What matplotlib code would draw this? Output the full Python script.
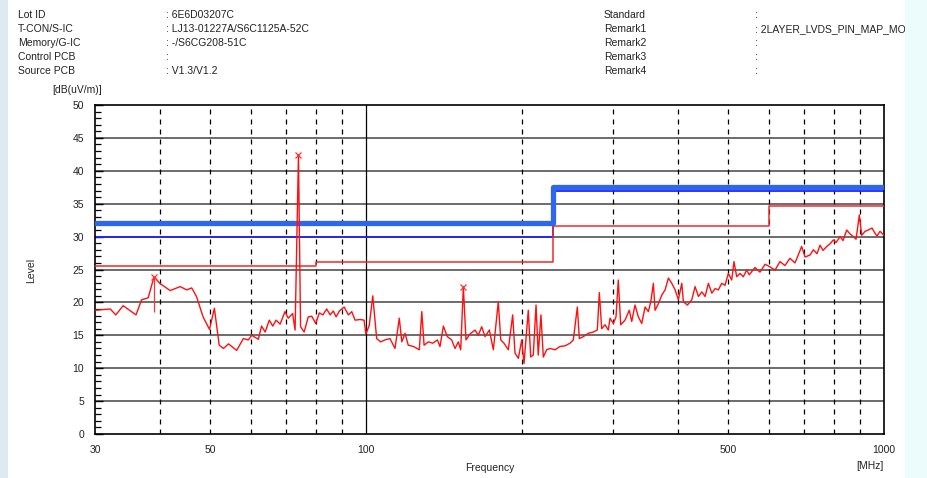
import numpy as np
import matplotlib
matplotlib.use('Agg')
from matplotlib import pyplot as plt
from matplotlib.patches import Rectangle

matplotlib.rcParams['font.family'] = ['Liberation Sans', 'DejaVu Sans']

# measured trace as (MHz, dB(uV/m)) pairs, split by band
trace_low = [(30.0, 18.8), (32.1, 19.0), (32.9, 18.1), (34.0, 19.5), (36.0, 18.1), (36.9, 20.4),
             (38.0, 20.7), (39.0, 23.9), (40.0, 22.9), (41.9, 21.8), (43.8, 22.4), (45.1, 21.9),
             (46.1, 22.2), (47.1, 20.9), (48.5, 17.8), (49.9, 15.9), (51.0, 19.1), (52.1, 13.5),
             (53.1, 13.0), (54.3, 13.7), (56.3, 12.7), (58.0, 14.5), (59.3, 14.3), (60.2, 15.0),
             (62.0, 14.4), (62.9, 16.4), (63.9, 15.5), (65.1, 17.3), (66.1, 16.4), (67.1, 17.3),
             (68.3, 16.7), (69.8, 18.6), (70.8, 17.6), (72.2, 18.3), (73.0, 15.8), (74.1, 42.4),
             (74.8, 16.3), (76.0, 15.5), (77.4, 17.8), (78.6, 17.9), (80.0, 16.8), (81.3, 18.4),
             (82.6, 18.1), (84.0, 19.0), (85.3, 18.1), (86.5, 18.7), (87.6, 17.8), (88.9, 18.7),
             (90.8, 19.3), (92.5, 18.1), (93.9, 18.6), (95.3, 17.3), (97.4, 17.4), (99.2, 17.3)]
trace_mid = [(100.0, 15.2), (101.5, 16.5), (103.1, 21.0), (104.9, 14.5), (106.8, 14.0), (108.8, 14.3),
             (111.3, 14.5), (113.8, 13.0), (116.0, 17.6), (117.3, 14.0), (119.0, 15.3), (120.7, 13.5),
             (123.5, 13.3), (126.8, 12.8), (128.2, 18.6), (129.5, 13.5), (132.0, 14.0), (134.6, 13.8),
             (137.4, 14.3), (139.0, 13.3), (141.1, 16.4), (143.6, 14.8), (146.4, 14.3), (148.6, 13.0),
             (150.8, 14.0), (152.4, 12.8), (154.2, 22.4), (156.0, 14.3), (158.8, 15.2), (162.4, 15.8),
             (164.8, 15.0), (167.3, 16.3), (169.8, 14.8), (173.1, 15.8), (176.2, 12.8), (180.1, 20.1),
             (182.1, 14.3), (184.7, 13.8), (188.3, 12.8), (192.0, 18.1), (194.0, 12.3), (196.9, 11.5),
             (199.9, 14.3), (201.9, 10.7), (205.8, 18.8), (208.0, 11.7), (210.4, 12.0), (213.0, 19.6),
             (215.1, 12.0), (217.7, 18.1), (220.0, 11.7), (223.3, 12.8), (226.6, 13.0), (231.8, 12.8),
             (236.9, 13.3), (242.3, 13.4), (247.7, 13.8), (251.4, 14.3), (255.9, 19.3), (258.2, 14.5),
             (262.8, 14.8), (268.7, 15.3), (274.8, 15.5), (279.7, 15.8), (282.2, 21.5), (285.2, 16.0),
             (289.4, 16.6), (293.7, 15.8), (295.9, 17.6)]
trace_high = [(300.3, 16.8), (303.9, 17.8), (307.0, 23.4), (310.3, 16.6), (316.3, 17.3), (322.4, 18.8),
              (325.9, 17.1), (330.7, 19.6), (335.6, 17.8), (340.7, 16.8), (345.8, 19.3), (350.9, 18.6),
              (354.7, 20.1), (358.8, 22.9), (361.5, 18.8), (366.9, 19.8), (372.4, 21.1), (378.0, 21.9),
              (383.6, 23.7), (389.4, 22.9), (395.2, 21.9), (401.0, 20.4), (407.1, 22.9), (410.0, 20.1),
              (417.4, 19.6), (425.6, 20.4), (431.9, 22.4), (438.4, 20.9), (445.0, 21.6), (451.6, 20.9),
              (458.2, 22.9), (465.2, 21.4), (472.1, 22.1), (478.8, 21.9), (486.2, 22.9), (493.3, 22.6),
              (500.7, 24.4), (508.2, 23.4), (513.4, 26.2), (519.6, 23.9), (527.3, 24.4), (535.0, 23.9),
              (543.2, 24.9), (549.5, 24.2), (563.6, 25.3), (576.3, 24.6), (589.4, 25.8), (602.5, 25.4),
              (616.0, 24.9), (629.8, 26.2), (644.0, 25.6), (658.4, 26.7), (673.3, 26.0), (693.6, 28.5),
              (703.9, 26.9), (719.8, 27.2), (730.5, 28.0), (742.5, 27.4), (752.5, 28.7), (762.7, 27.9),
              (775.3, 28.5), (786.8, 28.9), (798.4, 29.5), (808.1, 29.1), (822.5, 30.0), (833.6, 29.4),
              (847.3, 31.0), (860.0, 30.4), (872.8, 30.0), (883.2, 29.6), (896.2, 33.3), (905.7, 30.2),
              (919.4, 30.8), (932.6, 31.0), (948.2, 31.3), (960.8, 30.5), (969.5, 30.1), (982.3, 30.8),
              (1000.0, 30.2)]

# limit lines (step, value holds until next frequency)
lim_f = [30, 80, 230, 600, 1000]
lim_red = [25.5, 26.1, 31.6, 34.6, 34.6]
blue_f = [30, 230, 1000]
blue_thick = [32.0, 37.6, 37.6]
blue_thin = [30.0, 37.0, 37.0]

peak_f = [39.0, 74.1, 154.2]
peak_v = [23.9, 42.4, 22.4]

header_left = ['Lot ID', 'T-CON/S-IC', 'Memory/G-IC', 'Control PCB', 'Source PCB']
header_left_val = [': 6E6D03207C', ': LJ13-01227A/S6C1125A-52C', ': -/S6CG208-51C', ':', ': V1.3/V1.2']
header_right = ['Standard', 'Remark1', 'Remark2', 'Remark3', 'Remark4']
header_right_val = [':', ': 2LAYER_LVDS_PIN_MAP_MODIFY', ':', ':', ':']

trace = trace_low + trace_mid + trace_high
freq = [p[0] for p in trace]
level = [p[1] for p in trace]

W, H = 928, 478
fig = plt.figure(figsize=(W / 100, H / 100), dpi=100, facecolor='#ecfbfb')
fig.patches.append(Rectangle((8 / W, 0), (905 - 8) / W, 1, transform=fig.transFigure,
                             facecolor='white', edgecolor='none', zorder=-5))
fig.patches.append(Rectangle((0, 0), 8 / W, 1, transform=fig.transFigure,
                             facecolor='#dfe9f1', edgecolor='none', zorder=-5))

ax = fig.add_axes([95 / W, 1 - 434 / H, 789 / W, 329 / H])
ax.set_facecolor('white')
ax.set_xscale('log')
ax.set_xlim(30, 1000)
ax.set_ylim(0, 50)

# grid
for y in range(5, 50, 5):
    ax.axhline(y, color='#444444', lw=1.1, zorder=1)
for x in [40, 50, 60, 70, 80, 90, 200, 300, 400, 500, 600, 700, 800, 900]:
    ax.axvline(x, color='black', lw=0.9, ls=(0, (4, 4)), zorder=1)
ax.axvline(100, color='black', lw=0.9, zorder=1)

ax.step(blue_f, blue_thin, where='post', color='#2222ff', lw=1.3, zorder=2)
ax.step(lim_f, lim_red, where='post', color='#ee2a2a', lw=1.1, zorder=3)
ax.step(blue_f, blue_thick, where='post', color='#2f66ee', lw=3.8, zorder=4)

ax.plot(freq, level, color='#ff1010', lw=1.0, zorder=5)
ax.vlines(peak_f[0], 18.5, peak_v[0], color='#ff3030', lw=0.9, zorder=5)
ax.plot(peak_f, peak_v, 'x', color='#ff3030', ms=5, mew=0.9, zorder=6)

ax.set_xticks([30, 50, 100, 500, 1000])
ax.set_xticklabels(['30', '50', '100', '500', '1000'])
ax.xaxis.set_minor_locator(matplotlib.ticker.NullLocator())
ax.tick_params(axis='x', length=0, pad=8, labelsize=7.5, labelcolor='#222222')
ax.set_yticks(range(0, 51, 5))
ax.set_yticks(range(0, 51, 1), minor=True)
ax.tick_params(axis='y', which='major', direction='in', length=6, width=1.0,
               pad=8, labelsize=7.5, labelcolor='#222222')
ax.tick_params(axis='y', which='minor', direction='in', length=4, width=0.9)
for s in ax.spines.values():
    s.set_linewidth(1.2)
    s.set_color('black')

# header block
for i in range(5):
    yy = 1 - (15 + 14 * i) / H
    fig.text(18 / W, yy, header_left[i], fontsize=7.5, va='center', color='#222222')
    fig.text(166 / W, yy, header_left_val[i], fontsize=7.5, va='center', color='#222222')
    fig.text(604 / W, yy, header_right[i], fontsize=7.5, va='center', color='#222222')
    fig.text(755 / W, yy, header_right_val[i], fontsize=7.5, va='center', color='#222222')
fig.patches.append(Rectangle((905 / W, 0.75), 23 / W, 0.25, transform=fig.transFigure,
                             facecolor='#ecfbfb', edgecolor='none', zorder=10))

fig.text(77 / W, 1 - 90 / H, '[dB(uV/m)]', fontsize=7.5, ha='center', va='center', color='#222222')
fig.text(31 / W, 1 - 270 / H, 'Level', fontsize=7.5, rotation=90, ha='center', va='center', color='#222222')
fig.text(490 / W, 1 - 468 / H, 'Frequency', fontsize=7.5, ha='center', va='center', color='#222222')
fig.text(870 / W, 1 - 466 / H, '[MHz]', fontsize=7.5, ha='center', va='center', color='#222222')

plt.savefig('out.png', dpi=100, facecolor=fig.get_facecolor())
